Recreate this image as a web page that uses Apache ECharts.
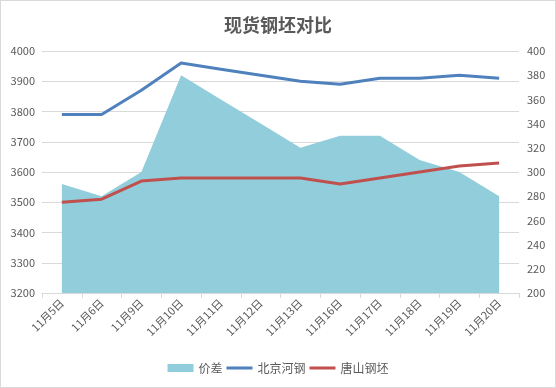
<!DOCTYPE html>
<html><head><meta charset="utf-8">
<script src="https://cdn.jsdelivr.net/npm/echarts@6/dist/echarts.min.js"></script>
<style>html,body{margin:0;padding:0;background:#fff}#c{width:554px;height:386px;border:1px solid #d9d9d9}</style>
</head><body><div id="c"></div>
<script>
var categories = ['11月5日','11月6日','11月9日','11月10日','11月11日','11月12日','11月13日','11月16日','11月17日','11月18日','11月19日','11月20日'];
var spread = [290,280,300,380,360,340,320,330,330,310,300,280];
var beijing = [3790,3790,3870,3960,3940,3920,3900,3890,3910,3910,3920,3910];
var tangshan = [3500,3510,3570,3580,3580,3580,3580,3560,3580,3600,3620,3630];
var leftTicks = [3200,4000,100];
var rightTicks = [200,400,20];

var chart = echarts.init(document.getElementById('c'));
var lab = {color:'#595959', fontSize:11, fontFamily:'"Noto Sans CJK SC", "Noto Sans", sans-serif'};
chart.setOption({
  animation:false,
  title:{text:'现货钢坯对比', left:'center', top:10, textStyle:{fontSize:18, fontWeight:'bold', color:'#595959', fontFamily:'"Noto Sans CJK SC", sans-serif'}},
  grid:{left:41, right:36, top:50, bottom:94, containLabel:false},
  legend:{bottom:8, left:'center', itemWidth:26, itemHeight:8, itemGap:4,
    textStyle:{color:'#595959', fontSize:12, fontFamily:'"Noto Sans CJK SC", sans-serif'},
    data:[{name:'价差', icon:'rect'},
          {name:'北京河钢', icon:'path://M0,0 H26 V3 H0 Z', itemStyle:{color:'#4F81BD'}},
          {name:'唐山钢坯', icon:'path://M0,0 H26 V3 H0 Z', itemStyle:{color:'#C0504D'}}]},
  xAxis:{type:'category', data:categories, boundaryGap:true,
    axisLine:{lineStyle:{color:'#d9d9d9'}}, axisTick:{show:true, length:5, lineStyle:{color:'#d9d9d9'}},
    axisLabel:Object.assign({rotate:45, interval:0, margin:8}, lab)},
  yAxis:[
    {type:'value', min:leftTicks[0], max:leftTicks[1], interval:leftTicks[2],
      axisLabel:Object.assign({margin:7, formatter:function(v){return String(v);}}, lab), axisLine:{show:false}, axisTick:{show:false},
      splitLine:{lineStyle:{color:'#d9d9d9'}}},
    {type:'value', min:rightTicks[0], max:rightTicks[1], interval:rightTicks[2],
      axisLabel:Object.assign({margin:8, formatter:function(v){return String(v);}}, lab), axisLine:{show:false}, axisTick:{show:false},
      splitLine:{show:false}}
  ],
  series:[
    {name:'价差', type:'line', yAxisIndex:1, data:spread, symbol:'none', z:1,
      itemStyle:{color:'#92CDDC'}, lineStyle:{width:0, color:'#92CDDC'},
      areaStyle:{color:'#92CDDC', opacity:1, origin:'start'}},
    {name:'北京河钢', type:'line', yAxisIndex:0, data:beijing, symbol:'none', z:3,
      itemStyle:{color:'#4F81BD'}, lineStyle:{width:3, color:'#4F81BD'}},
    {name:'唐山钢坯', type:'line', yAxisIndex:0, data:tangshan, symbol:'none', z:3,
      itemStyle:{color:'#C0504D'}, lineStyle:{width:3, color:'#C0504D'}}
  ]
});
</script></body></html>
